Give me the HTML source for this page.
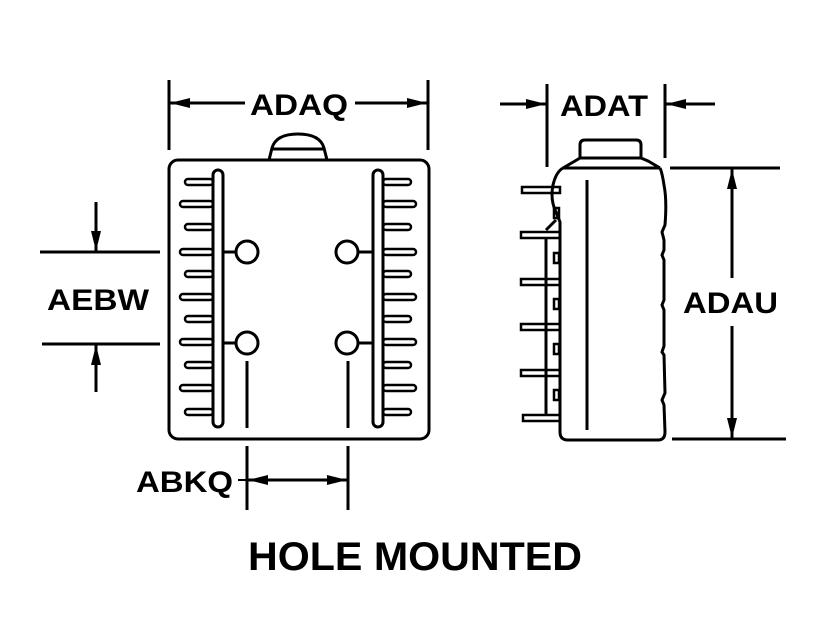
<!DOCTYPE html>
<html><head><style>html,body{margin:0;padding:0;background:#fff}svg{display:block}</style></head>
<body>
<svg width="824" height="644" viewBox="0 0 824 644" xmlns="http://www.w3.org/2000/svg">
<defs>
<marker id="a" viewBox="0 0 20 10" refX="20" refY="5" markerWidth="20" markerHeight="10" markerUnits="userSpaceOnUse" orient="auto"><path d="M0,0 L20,5 L0,10 z" fill="#000"/></marker>
</defs>
<g fill="none" stroke="#000" stroke-width="3">
<!-- left body -->
<rect x="169" y="160" width="260" height="279" rx="9"/>
<path d="M269,160 L272,148 Q276,134 298,134 Q320,134 324,148 L327,160"/>
<line x1="272" y1="149" x2="324" y2="149"/>
<!-- rails -->
<rect x="213" y="170" width="10" height="257" rx="5"/>
<rect x="373" y="170" width="10" height="257" rx="5"/>
<!-- fins -->
<g stroke-width="2.5">
<rect x="185" y="179" width="28" height="6" rx="3"/>
<rect x="180" y="201" width="33" height="6" rx="3"/>
<rect x="185" y="224" width="28" height="6" rx="3"/>
<rect x="180" y="249" width="33" height="6" rx="3"/>
<rect x="185" y="271" width="28" height="6" rx="3"/>
<rect x="180" y="294" width="33" height="6" rx="3"/>
<rect x="185" y="316" width="28" height="6" rx="3"/>
<rect x="180" y="339" width="33" height="6" rx="3"/>
<rect x="185" y="362" width="28" height="6" rx="3"/>
<rect x="180" y="385" width="33" height="6" rx="3"/>
<rect x="185" y="409" width="28" height="6" rx="3"/>
<rect x="383" y="179" width="28" height="6" rx="3"/>
<rect x="383" y="201" width="33" height="6" rx="3"/>
<rect x="383" y="224" width="28" height="6" rx="3"/>
<rect x="383" y="249" width="33" height="6" rx="3"/>
<rect x="383" y="271" width="28" height="6" rx="3"/>
<rect x="383" y="294" width="33" height="6" rx="3"/>
<rect x="383" y="316" width="28" height="6" rx="3"/>
<rect x="383" y="339" width="33" height="6" rx="3"/>
<rect x="383" y="362" width="28" height="6" rx="3"/>
<rect x="383" y="385" width="33" height="6" rx="3"/>
<rect x="383" y="409" width="28" height="6" rx="3"/>
</g>
<!-- holes -->
<circle cx="247" cy="252" r="11"/><circle cx="247" cy="343" r="11"/>
<circle cx="347" cy="252" r="11"/><circle cx="347" cy="343" r="11"/>
<line x1="223" y1="252" x2="236" y2="252"/><line x1="223" y1="343" x2="236" y2="343"/>
<line x1="358" y1="252" x2="373" y2="252"/><line x1="358" y1="343" x2="373" y2="343"/>
<line x1="247" y1="361" x2="247" y2="428"/><line x1="348" y1="361" x2="348" y2="428"/>
<!-- side view -->
<path d="M580,158 L580,145 Q580,140 585,140 L636,140 Q641,140 641,145 L641,158"/>
<path d="M563,168 L575,161 L580,158 L641,158 L648,161 L660,168"/>
<path d="M563,168 Q556,172 553,185 Q550,200 556,212 L560,222 L560,245 L560,432 Q560,440 568,440 L658,440 Q665,440 665,432 L664,405 L662,400 L665,393 L664,355 L662,352 L664,346 L664,310 L662,305 L664,300 L664,260 L662,255 L664,250 L664,240 L662,232 L665,225 Q667,200 664,185 Q662,172 660,168"/>
<line x1="563" y1="168" x2="660" y2="168"/>
<line x1="587" y1="180" x2="587" y2="430"/>
<g stroke-width="2.5">
<rect x="522" y="187" width="38" height="6"/>
<rect x="521" y="232" width="39" height="6"/>
<rect x="521" y="279" width="39" height="6"/>
<rect x="521" y="324" width="39" height="6"/>
<rect x="521" y="370" width="39" height="6"/>
<rect x="523" y="415" width="37" height="6"/>
<rect x="554" y="208" width="5" height="10"/>
<rect x="554" y="253" width="5" height="10"/>
<rect x="554" y="299" width="5" height="10"/>
<rect x="554" y="344" width="5" height="10"/>
<rect x="554" y="390" width="5" height="10"/>
</g>
<line x1="546" y1="238" x2="546" y2="415"/>
<line x1="546" y1="230" x2="556" y2="220"/>
<!-- dimension lines -->
<line x1="169" y1="80" x2="169" y2="150"/><line x1="428" y1="80" x2="428" y2="150"/>
<line x1="245" y1="103" x2="170" y2="103" marker-end="url(#a)"/>
<line x1="355" y1="103" x2="427" y2="103" marker-end="url(#a)"/>
<line x1="547" y1="84" x2="547" y2="167"/><line x1="665" y1="84" x2="665" y2="158"/>
<line x1="500" y1="104" x2="546" y2="104" marker-end="url(#a)"/>
<line x1="715" y1="104" x2="666" y2="104" marker-end="url(#a)"/>
<line x1="670" y1="168" x2="780" y2="168"/><line x1="672" y1="439" x2="786" y2="439"/>
<line x1="732" y1="278" x2="732" y2="169" marker-end="url(#a)"/>
<line x1="732" y1="326" x2="732" y2="438" marker-end="url(#a)"/>
<line x1="40" y1="252" x2="160" y2="252"/><line x1="42" y1="344" x2="160" y2="344"/>
<line x1="96" y1="202" x2="96" y2="251" marker-end="url(#a)"/>
<line x1="96" y1="392" x2="96" y2="345" marker-end="url(#a)"/>
<line x1="247" y1="446" x2="247" y2="510"/><line x1="348" y1="446" x2="348" y2="510"/>
<line x1="238" y1="480" x2="248" y2="480" stroke-width="2"/>
<line x1="290" y1="480" x2="248" y2="480" marker-end="url(#a)"/>
<line x1="290" y1="480" x2="347" y2="480" marker-end="url(#a)"/>
</g>
<g font-family="Liberation Sans, Arial, sans-serif" font-weight="bold" fill="#000">
<text x="250" y="115" font-size="30" textLength="98" lengthAdjust="spacingAndGlyphs">ADAQ</text>
<text x="560" y="116" font-size="30" textLength="88" lengthAdjust="spacingAndGlyphs">ADAT</text>
<text x="683" y="313" font-size="30" textLength="95" lengthAdjust="spacingAndGlyphs">ADAU</text>
<text x="47" y="310" font-size="30" textLength="102" lengthAdjust="spacingAndGlyphs">AEBW</text>
<text x="136" y="492" font-size="30" textLength="97" lengthAdjust="spacingAndGlyphs">ABKQ</text>
<text x="248" y="570" font-size="40" textLength="334" lengthAdjust="spacingAndGlyphs">HOLE MOUNTED</text>
</g>
</svg>
</body></html>
